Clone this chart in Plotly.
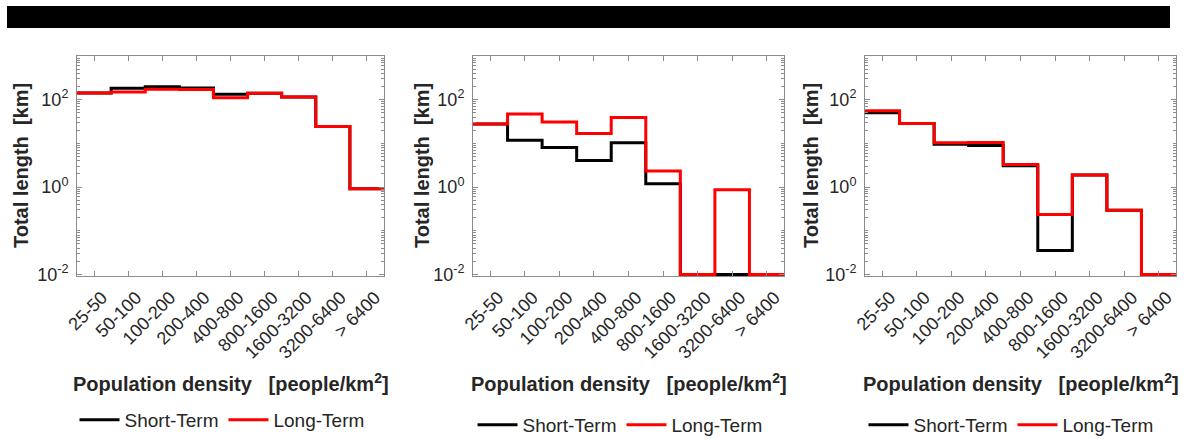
import plotly.graph_objects as go

categories = ["25-50", "50-100", "100-200", "200-400", "400-800",
              "800-1600", "1600-3200", "3200-6400", "> 6400"]
y_tickvals = [0.01, 1, 100]
y_ticktext = ["10<sup>-2</sup>", "10<sup>0</sup>", "10<sup>2</sup>"]

# Panel (a)
a_short = [143, 182, 198, 185, 134, 141, 115, 24.3, 0.92]
a_long = [143, 150, 173, 170, 111, 141, 115, 24.3, 0.92]
# Panel (b)
b_short = [27.9, 11.8, 8.05, 4.05, 10.3, 1.19, 0.01, 0.01, 0.01]
b_long = [27.9, 46.8, 31.0, 16.9, 39.3, 2.33, 0.01, 0.87, 0.01]
# Panel (c)
c_short = [50.0, 28.4, 9.5, 8.9, 3.07, 0.0352, 1.89, 0.294, 0.01]
c_long = [55.6, 28.4, 10.3, 10.5, 3.29, 0.235, 1.89, 0.294, 0.01]

panels = [(a_short, a_long), (b_short, b_long), (c_short, c_long)]

W, H = 1187, 439
FONT = "Arial, Liberation Sans, Helvetica, sans-serif"
AX = "#8c8c8c"
TXT = "#262626"

xdoms = [(77, 384), (473, 784), (865, 1176)]
ydom = (1 - 276 / H, 1 - 56 / H)

fig = go.Figure()

n = len(categories)
edges = [i + 0.5 for i in range(n + 1)]

legend_pos = [(222, 420), (620, 425), (1011, 425)]

for k, (s, l) in enumerate(panels):
    sfx = "" if k == 0 else str(k + 1)
    leg = "legend" if k == 0 else f"legend{k+1}"
    for vals, name, col in [(s, "Short-Term", "#000000"), (l, "Long-Term", "#ff0000")]:
        fig.add_trace(go.Scatter(
            x=edges, y=list(vals) + [vals[-1]], mode="lines",
            line=dict(shape="hv", color=col, width=3),
            name=name, xaxis="x" + sfx, yaxis="y" + sfx, legend=leg,
            showlegend=True,
        ))
    x0, x1 = xdoms[k]
    xa = dict(
        domain=[x0 / W, x1 / W], range=[0.5, 9.5], anchor="y" + sfx,
        tickvals=list(range(1, n + 1)), ticktext=categories, tickangle=-45,
        ticks="inside", ticklen=5, tickcolor=AX, showline=True, linecolor=AX,
        linewidth=1, mirror="allticks", showgrid=False, zeroline=False,
        tickfont=dict(family=FONT, size=18, color=TXT), automargin=False,
        ticklabelshift=8, ticklabelstandoff=3,
    )
    ya = dict(
        domain=list(ydom), type="log", range=[-2.035, 3], anchor="x" + sfx,
        tickvals=y_tickvals, ticktext=y_ticktext,
        ticks="inside", ticklen=5, tickcolor=AX, showline=True, linecolor=AX,
        linewidth=1, mirror="allticks", showgrid=False, zeroline=False,
        tickfont=dict(family=FONT, size=18, color=TXT), automargin=False,
        ticklabelstandoff=4,
        minor=dict(ticks="inside", ticklen=3, tickcolor=AX, dtick="D1", showgrid=False),
    )
    fig.update_layout(**{"xaxis" + sfx: xa, "yaxis" + sfx: ya})

    lx, ly = legend_pos[k]
    fig.update_layout(**{leg: dict(
        orientation="h", x=lx / W, y=1 - ly / H, xanchor="center", yanchor="middle",
        font=dict(family=FONT, size=19, color=TXT), bgcolor="rgba(0,0,0,0)",
        itemwidth=40, tracegroupgap=0,
    )})

    # axis titles
    fig.add_annotation(
        x=(x0 + x1) / 2 / W, y=1 - 382 / H, xref="paper", yref="paper",
        text="<b>Population density   [people/km<sup>2</sup>]</b>", showarrow=False,
        font=dict(family=FONT, size=20, color=TXT), xanchor="center", yanchor="middle",
    )
    ylx = [21, 422, 811][k]
    fig.add_annotation(
        x=ylx / W, y=1 - 166 / H, xref="paper", yref="paper",
        text="<b>Total length  [km]</b>", showarrow=False, textangle=-90,
        font=dict(family=FONT, size=20, color=TXT), xanchor="center", yanchor="middle",
    )

# black bar covering the caption line at the top
fig.add_shape(type="rect", xref="paper", yref="paper",
              x0=7 / W, x1=1170 / W, y0=1 - 28 / H, y1=1 - 6 / H,
              fillcolor="#000000", line=dict(width=0), layer="above")

fig.update_layout(
    width=W, height=H, margin=dict(l=0, r=0, t=0, b=0, autoexpand=False),
    paper_bgcolor="white", plot_bgcolor="white",
    font=dict(family=FONT, color=TXT),
)

fig.write_html("out.html")
